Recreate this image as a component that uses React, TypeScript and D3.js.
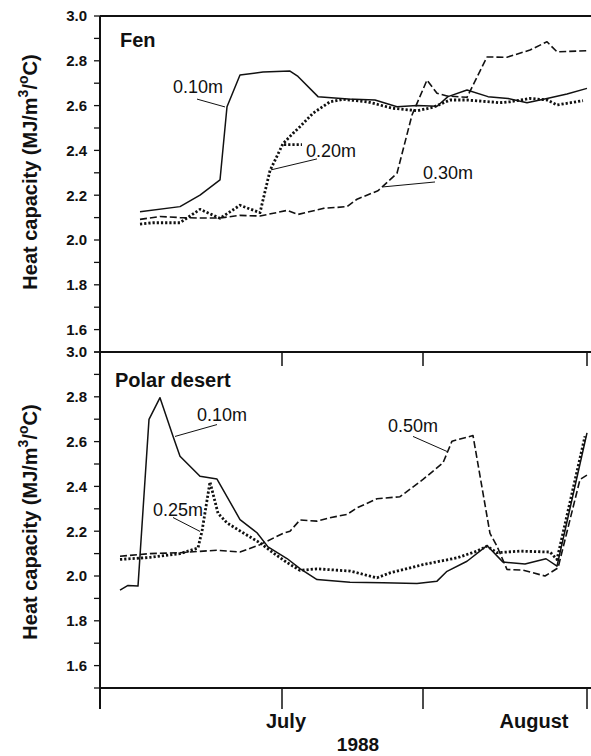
import React, { useEffect, useRef } from 'react';
import * as d3 from 'd3';

// x is in days from the start of the record, y is heat capacity (MJ/m3/C)
const fen10: [number, number][] = [
  [4.0, 2.126], [8.0, 2.149], [10.0, 2.2], [12.0, 2.268], [12.7, 2.595], [14.0, 2.737],
  [16.3, 2.75], [19.0, 2.754], [19.8, 2.73], [21.8, 2.64], [24.8, 2.63], [27.5, 2.625],
  [29.7, 2.595], [31.7, 2.6], [33.7, 2.597], [34.8, 2.64], [36.7, 2.67], [38.8, 2.64],
  [40.8, 2.632], [42.7, 2.613], [44.7, 2.632], [46.7, 2.652], [48.7, 2.677],
];
const fen20: [number, number][] = [
  [4.0, 2.071], [5.3, 2.077], [8.0, 2.077], [10.0, 2.137], [12.0, 2.097], [14.0, 2.155],
  [16.0, 2.122], [17.0, 2.31], [18.3, 2.43], [19.3, 2.476], [20.0, 2.506], [21.3, 2.566],
  [23.0, 2.617], [24.3, 2.628], [26.7, 2.617], [29.3, 2.588], [31.7, 2.577], [33.3, 2.592],
  [35.0, 2.625], [36.7, 2.625], [40.0, 2.613], [41.0, 2.617], [43.0, 2.632], [44.7, 2.625],
  [45.7, 2.603], [48.3, 2.622],
];
const fen30: [number, number][] = [
  [4.0, 2.092], [6.0, 2.105], [8.0, 2.1], [10.0, 2.098], [12.0, 2.098], [14.0, 2.11],
  [16.0, 2.107], [18.7, 2.132], [19.8, 2.114], [22.3, 2.141], [24.7, 2.149], [25.7, 2.182],
  [27.8, 2.22], [29.7, 2.298], [31.2, 2.558], [32.7, 2.714], [33.7, 2.655], [34.7, 2.643],
  [36.7, 2.637], [38.7, 2.817], [40.7, 2.816], [43.0, 2.848], [44.7, 2.885], [45.7, 2.84],
  [48.7, 2.845],
];

const polar10: [number, number][] = [
  [2.0, 1.937], [2.8, 1.958], [3.8, 1.955], [4.9, 2.699], [6.0, 2.796], [7.3, 2.624],
  [8.0, 2.535], [10.0, 2.445], [11.7, 2.433], [14.0, 2.252], [15.7, 2.193], [16.8, 2.13],
  [18.7, 2.078], [20.0, 2.033], [21.7, 1.984], [25.0, 1.972], [28.3, 1.97], [31.7, 1.967],
  [33.7, 1.977], [34.7, 2.021], [36.7, 2.066], [38.7, 2.136], [40.3, 2.062], [42.5, 2.054],
  [44.6, 2.077], [45.7, 2.044], [48.7, 2.639],
];
const polar25: [number, number][] = [
  [2.0, 2.074], [5.0, 2.083], [8.0, 2.1], [9.8, 2.125], [10.2, 2.2], [11.0, 2.42],
  [11.8, 2.28], [12.7, 2.237], [14.3, 2.193], [16.0, 2.148], [17.3, 2.104], [18.7, 2.06],
  [20.0, 2.025], [21.7, 2.032], [25.0, 2.022], [27.7, 1.992], [29.0, 2.014], [32.3, 2.051],
  [35.7, 2.081], [37.7, 2.111], [38.7, 2.133], [39.7, 2.104], [42.0, 2.111], [45.0, 2.107],
  [45.7, 2.074], [48.5, 2.624],
];
const polar50: [number, number][] = [
  [2.0, 2.088], [5.0, 2.1], [8.0, 2.104], [10.0, 2.11], [11.7, 2.115], [14.0, 2.107],
  [16.0, 2.14], [18.3, 2.19], [19.0, 2.2], [20.0, 2.25], [21.7, 2.245], [23.0, 2.26],
  [24.7, 2.275], [25.7, 2.304], [27.7, 2.345], [30.0, 2.354], [32.3, 2.431], [34.3, 2.505],
  [35.2, 2.602], [37.3, 2.627], [39.0, 2.19], [39.7, 2.133], [40.7, 2.029], [42.3, 2.026],
  [44.5, 2.0], [45.8, 2.036], [48.0, 2.431], [48.8, 2.453],
];

const xTicks = [0, 18.2, 32.3, 48.7];
const months = [{ name: 'July', day: 18.6 }, { name: 'August', day: 43.4 }];
const yMajor = [1.6, 1.8, 2.0, 2.2, 2.4, 2.6, 2.8, 3.0];
const yMinor = [1.5, 1.7, 1.9, 2.1, 2.3, 2.5, 2.7, 2.9];

const styles = {
  solid: { width: 1.5, dash: null },
  dotted: { width: 2.8, dash: '2.2,2' },
  dashed: { width: 1.6, dash: '7,3' },
};

const panels = [
  {
    name: 'Fen',
    namePos: [2.0, 2.862],
    series: [
      { data: fen10, style: 'solid' },
      { data: fen20, style: 'dotted' },
      { data: fen30, style: 'dashed' },
    ],
    labels: [
      { text: '0.10m', at: [7.3, 2.656], from: [9.7, 2.629], to: [12.5, 2.594] },
      { text: '0.20m', at: [20.6, 2.371], from: [17.1, 2.313], to: [21.7, 2.362], stub: [[18.4, 2.426], [20.2, 2.426]] },
      { text: '0.30m', at: [32.3, 2.272], from: [28.3, 2.237], to: [33.5, 2.259] },
    ],
  },
  {
    name: 'Polar desert',
    namePos: [1.5, 2.842],
    series: [
      { data: polar10, style: 'solid' },
      { data: polar25, style: 'dotted' },
      { data: polar50, style: 'dashed' },
    ],
    labels: [
      { text: '0.10m', at: [9.7, 2.69], from: [7.5, 2.623], to: [11.7, 2.676] },
      { text: '0.25m', at: [5.3, 2.266], from: [7.3, 2.261], to: [10.0, 2.199] },
      { text: '0.50m', at: [28.8, 2.641], from: [31.3, 2.623], to: [34.7, 2.556] },
    ],
  },
];

export default function App() {
  const svgRef = useRef<SVGSVGElement>(null);

  useEffect(() => {
    const svg = d3.select(svgRef.current);
    svg.selectAll('*').remove();

    const font = '"Liberation Sans", Arial, Helvetica, sans-serif';
    const ink = '#111';
    const left = 100, right = 591;
    const panelTops = [16, 352];
    const panelH = 336;

    const x = d3.scaleLinear().domain([0, 49]).range([left, 590]);

    panels.forEach((p, i) => {
      const top = panelTops[i];
      const y = d3.scaleLinear().domain([1.5, 3.0]).range([top + panelH, top]);
      const g = svg.append('g');

      // top border of the panel
      g.append('line')
        .attr('x1', left).attr('x2', right)
        .attr('y1', top).attr('y2', top)
        .attr('stroke', ink).attr('stroke-width', 2);

      // y ticks
      yMinor.concat(yMajor).forEach(v => {
        g.append('line')
          .attr('x1', left - 6).attr('x2', left)
          .attr('y1', y(v)).attr('y2', y(v))
          .attr('stroke', ink).attr('stroke-width', 1.3);
      });
      yMajor.forEach(v => {
        g.append('text')
          .attr('x', 87).attr('y', y(v))
          .attr('dy', '0.36em')
          .attr('text-anchor', 'end')
          .style('font-family', font).style('font-weight', 'bold').style('font-size', '15px')
          .attr('fill', ink)
          .text(v.toFixed(1));
      });

      // y title
      const cy = i === 0 ? 172 : 522;
      const t = g.append('text')
        .attr('transform', `translate(37,${cy}) rotate(-90)`)
        .attr('text-anchor', 'middle')
        .style('font-family', font).style('font-weight', 'bold').style('font-size', '20px')
        .attr('fill', ink);
      t.append('tspan').text('Heat capacity (MJ/m');
      t.append('tspan').attr('dy', -9).style('font-size', '14px').text('3');
      t.append('tspan').attr('dy', 9).text('/');
      t.append('tspan').attr('dy', -9).style('font-size', '14px').text('o');
      t.append('tspan').attr('dy', 9).text('C)');

      // panel name
      g.append('text')
        .attr('x', x(p.namePos[0])).attr('y', y(p.namePos[1]))
        .style('font-family', font).style('font-weight', 'bold').style('font-size', '20px')
        .attr('fill', ink)
        .text(p.name);

      // series
      const line = d3.line<[number, number]>().x(d => x(d[0])).y(d => y(d[1]));
      p.series.forEach(s => {
        const st = styles[s.style];
        g.append('path')
          .attr('d', line(s.data))
          .attr('fill', 'none')
          .attr('stroke', ink)
          .attr('stroke-width', st.width)
          .attr('stroke-linejoin', 'round')
          .attr('stroke-dasharray', st.dash);
      });

      // depth labels with leader lines
      p.labels.forEach(l => {
        g.append('line')
          .attr('x1', x(l.from[0])).attr('y1', y(l.from[1]))
          .attr('x2', x(l.to[0])).attr('y2', y(l.to[1]))
          .attr('stroke', ink).attr('stroke-width', 1);
        if (l.stub) {
          g.append('line')
            .attr('x1', x(l.stub[0][0])).attr('y1', y(l.stub[0][1]))
            .attr('x2', x(l.stub[1][0])).attr('y2', y(l.stub[1][1]))
            .attr('stroke', ink).attr('stroke-width', 2.8).attr('stroke-dasharray', '2.2,2');
        }
        g.append('text')
          .attr('x', x(l.at[0])).attr('y', y(l.at[1]))
          .style('font-family', font).style('font-size', '18px')
          .attr('fill', ink)
          .text(l.text);
      });

      // x ticks on the lower panel (inside at top, outside at bottom)
      if (i === 1) {
        xTicks.slice(1).forEach(d => {
          g.append('line')
            .attr('x1', x(d)).attr('x2', x(d))
            .attr('y1', top).attr('y2', top + 14)
            .attr('stroke', ink).attr('stroke-width', 1.5);
        });
      }
    });

    // bottom axis
    const base = panelTops[1] + panelH;
    svg.append('line')
      .attr('x1', left).attr('x2', right)
      .attr('y1', base).attr('y2', base)
      .attr('stroke', ink).attr('stroke-width', 2);
    xTicks.forEach(d => {
      svg.append('line')
        .attr('x1', x(d)).attr('x2', x(d))
        .attr('y1', base).attr('y2', base + 21)
        .attr('stroke', ink).attr('stroke-width', 1.5);
    });
    months.forEach(m => {
      svg.append('text')
        .attr('x', x(m.day)).attr('y', 728)
        .attr('text-anchor', 'middle')
        .style('font-family', font).style('font-weight', 'bold').style('font-size', '20px')
        .attr('fill', ink)
        .text(m.name);
    });
    svg.append('text')
      .attr('x', 358).attr('y', 751)
      .attr('text-anchor', 'middle')
      .style('font-family', font).style('font-weight', 'bold').style('font-size', '19px')
      .attr('fill', ink)
      .text('1988');

    // left axis line
    svg.append('line')
      .attr('x1', left).attr('x2', left)
      .attr('y1', panelTops[0]).attr('y2', base + 21)
      .attr('stroke', ink).attr('stroke-width', 2);
  }, []);

  return (
    <svg
      ref={svgRef}
      width={591}
      height={756}
      style={{ position: 'absolute', left: 0, top: 0, background: '#fff' }}
    />
  );
}
